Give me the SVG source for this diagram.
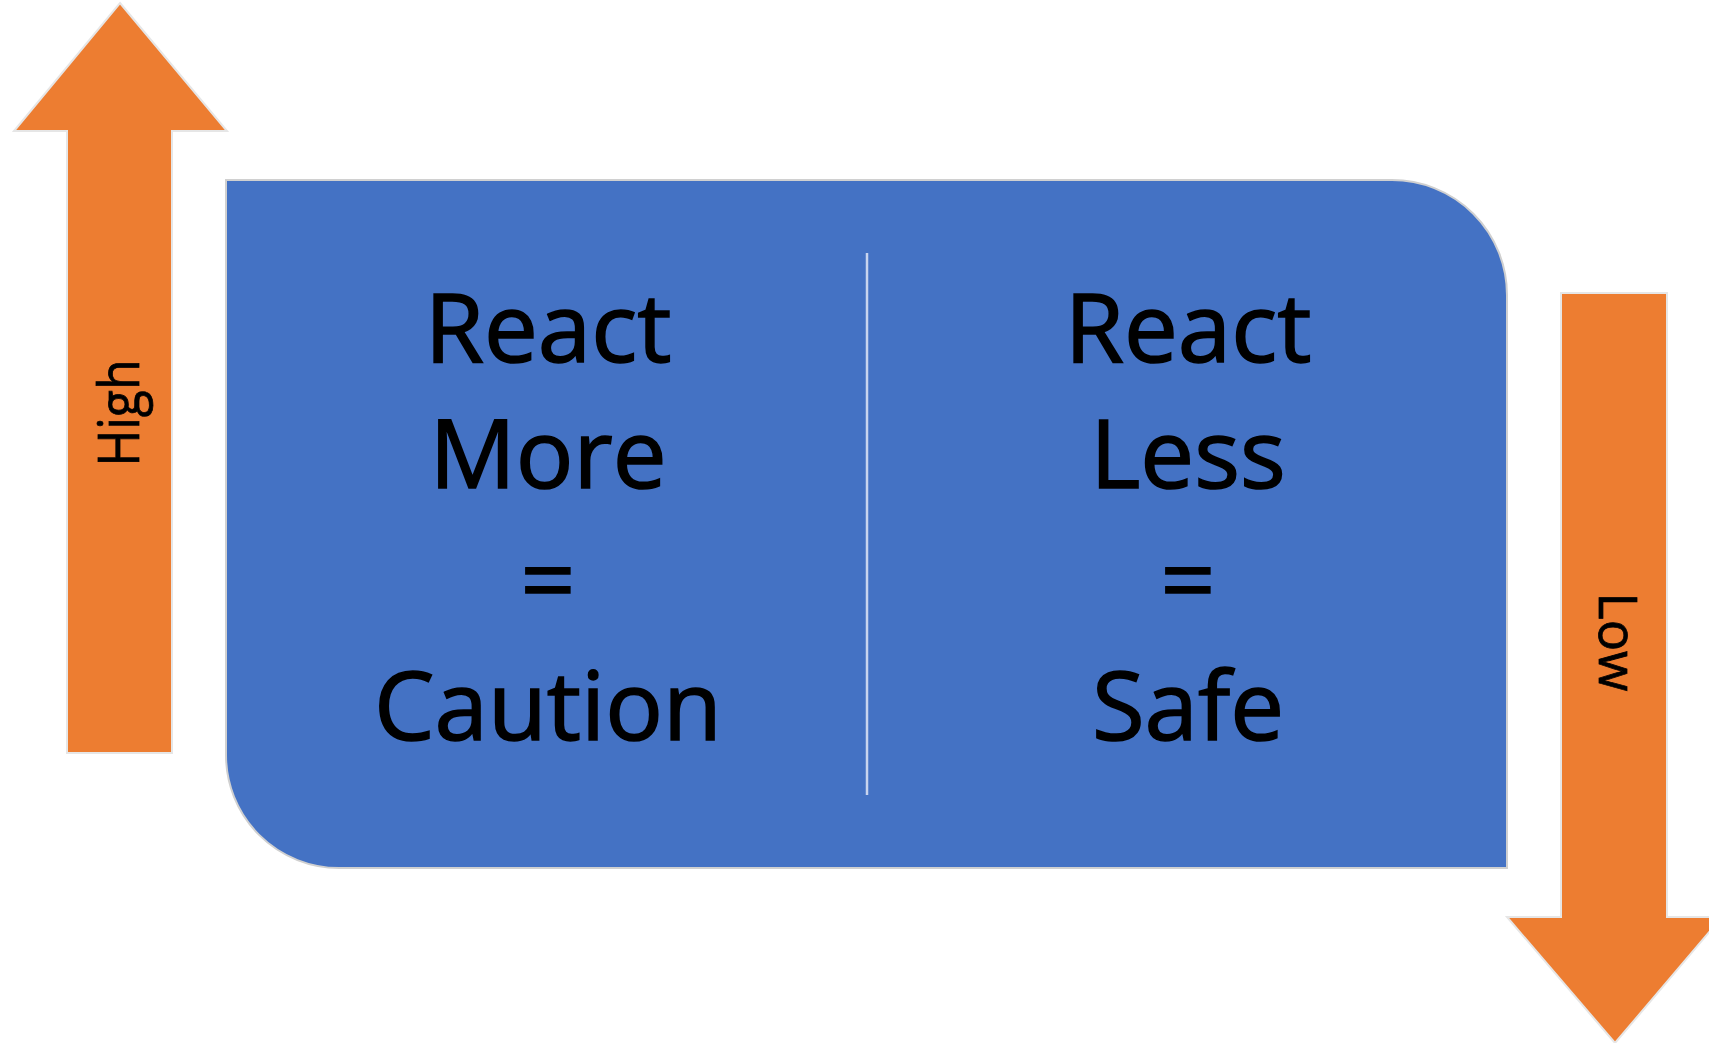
<svg xmlns="http://www.w3.org/2000/svg" width="1709" height="1043" viewBox="0 0 1709 1043">
<style>
.arrow{fill:#ED7D31;stroke:#e6e6e6;stroke-width:2}
.main{font-family:"Open Sans","Liberation Sans",sans-serif;font-size:96px;fill:#000;stroke:#000;stroke-width:1.6;text-anchor:middle}
.side{font-family:"Open Sans","Liberation Sans",sans-serif;fill:#000;stroke:#000;stroke-width:0.8;text-anchor:middle}
</style>
<rect width="1709" height="1043" fill="#ffffff"/>
<g id="box">
<path d="M226,180 H1392 A115,115 0 0 1 1507,295 V868 H339 A113,113 0 0 1 226,755 Z" fill="#4472C4" stroke="#d0d0d0" stroke-width="2"/>
<line x1="867" y1="253" x2="867" y2="795" stroke="#c8d4ee" stroke-width="2.5"/>
</g>
<g id="left-column">
<text class="main" x="548" y="362">React</text>
<text class="main" x="548" y="488">More</text>
<text class="main" x="548" y="614">=</text>
<text class="main" x="548" y="740">Caution</text>
</g>
<g id="right-column">
<text class="main" x="1188" y="362">React</text>
<text class="main" x="1188" y="488">Less</text>
<text class="main" x="1188" y="614">=</text>
<text class="main" x="1188" y="740">Safe</text>
</g>
<g id="high-arrow">
<polygon class="arrow" points="120,3 227,131 172,131 172,753 67,753 67,131 14,131"/>
<text class="side" font-size="56" transform="translate(139,413) rotate(-90)" textLength="107" lengthAdjust="spacingAndGlyphs">High</text>
</g>
<g id="low-arrow">
<polygon class="arrow" points="1561,293 1667,293 1667,917 1722,917 1615,1043 1507,917 1561,917"/>
<text class="side" font-size="53" transform="translate(1599,642) rotate(90)" textLength="99" lengthAdjust="spacingAndGlyphs">Low</text>
</g>
<g id="connectors"></g>
</svg>
